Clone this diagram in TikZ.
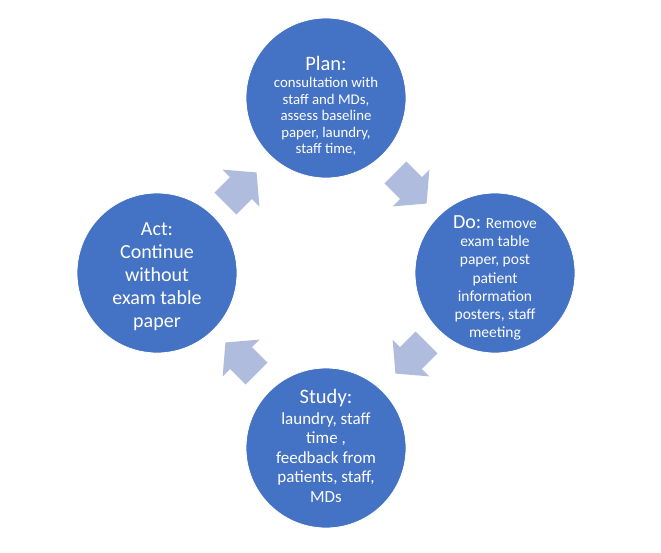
\documentclass[tikz,border=0pt]{standalone}
\usepackage{fontspec}
\setmainfont{Carlito}
\definecolor{circblue}{RGB}{68,114,196}
\definecolor{arrowblue}{RGB}{176,188,222}
\begin{document}
\begin{tikzpicture}[x=1pt,y=-1pt,
  circ/.style={circle,fill=circblue,draw=white,line width=0.8pt,minimum size=160pt,inner sep=0pt},
  txt/.style={text=white,align=center,inner sep=0pt},
  pics/blockarrow/.style={code={
    \fill[arrowblue] (-22,-15.5) -- (0,-15.5) -- (0,-26) -- (22,0) -- (0,26) -- (0,15.5) -- (-22,15.5) -- cycle;}}
]
\useasboundingbox (0,0) rectangle (661,552);
\node[circ] (plan) at (326,98) {};
\node[circ] (do) at (495,273) {};
\node[circ] (study) at (326,448) {};
\node[circ] (act) at (157,273) {};

\node[txt,font=\fontsize{14.8}{16.5}\selectfont] (plantxt) at (326,106)
  {{\fontsize{20.5}{20.5}\selectfont Plan:}\\[1pt]
   consultation with\\ staff and MDs,\\ assess baseline\\ paper, laundry,\\ staff time,};
\node[txt,font=\fontsize{15.5}{18.3}\selectfont] (dotxt) at (495,278)
  {{\fontsize{20}{20}\selectfont Do:} Remove\\ exam table\\ paper, post\\ patient\\ information\\ posters, staff\\ meeting};
\node[txt,font=\fontsize{17}{19.5}\selectfont] (studytxt) at (326,446)
  {{\fontsize{20.5}{20.5}\selectfont Study:}\\[1pt]
   laundry, staff\\ time ,\\ feedback from\\ patients, staff,\\ MDs};
\node[txt,font=\fontsize{20}{23}\selectfont] (acttxt) at (157,277)
  {Act:\\ Continue\\ without\\ exam table\\ paper};

\pic[rotate=-45] at (411,188) {blockarrow};
\pic[rotate=-135] at (411,358) {blockarrow};
\pic[rotate=135] at (241,358) {blockarrow};
\pic[rotate=45] at (241,188) {blockarrow};
\end{tikzpicture}
\end{document}
